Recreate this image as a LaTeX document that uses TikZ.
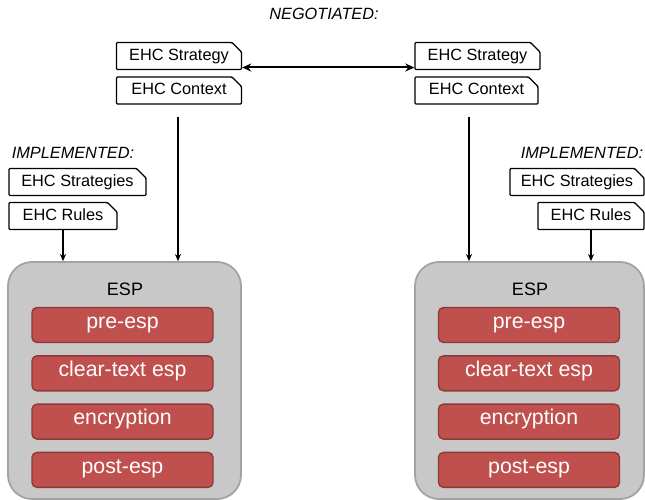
\documentclass[tikz,border=0pt]{standalone}
\usepackage{fontspec}
\setmainfont{Liberation Sans}
\usetikzlibrary{arrows.meta,shapes.misc}
\definecolor{espgray}{HTML}{C8C8C8}
\definecolor{espedge}{HTML}{A3A3A3}
\definecolor{stagered}{HTML}{C0504D}
\definecolor{stageedge}{HTML}{8C3A38}
\tikzset{
  doc/.style={chamfered rectangle, chamfered rectangle corners=north east,
    chamfered rectangle xsep=5pt, chamfered rectangle ysep=5pt,
    draw=black, line width=1.4pt, fill=white, inner sep=0pt,
    minimum height=27pt, rounded corners=1pt,
    text height=0.88em, text depth=0.02em,
    font=\fontsize{16.3}{19}\selectfont},
  heading/.style={font=\fontsize{16.3}{19}\selectfont\itshape, inner sep=0pt},
  espbox/.style={rectangle, rounded corners=24pt, draw=espedge, fill=espgray,
    line width=1.8pt, minimum width=233pt, minimum height=237pt},
  esplabel/.style={font=\fontsize{18}{21}\selectfont, inner sep=0pt},
  stage/.style={rectangle, rounded corners=5pt, draw=stageedge, fill=stagered,
    line width=1.4pt, text=white, minimum width=181pt, minimum height=35pt,
    inner sep=0pt, text height=0.7em, text depth=0.04em,
    font=\fontsize{21.3}{25}\selectfont},
  arr/.style={line width=1.6pt, -{Stealth[length=7pt,width=6pt]}},
  dbl/.style={line width=2pt, {Stealth[length=9pt,width=8pt]}-{Stealth[length=9pt,width=8pt]}}
}
\begin{document}
\begin{tikzpicture}[x=1pt,y=-1pt]
  \useasboundingbox (0,0) rectangle (645,500);
  \clip (0,0) rectangle (645,500);

  % negotiated contexts
  \node[heading] (neg) at (324,14) {NEGOTIATED:};
  \node[doc, minimum width=125pt] (ls) at (179,56) {EHC Strategy};
  \node[doc, minimum width=125pt] (lc) at (179,90.5) {EHC Context};
  \node[doc, minimum width=125pt] (rs) at (477.5,56) {EHC Strategy};
  \node[doc, minimum width=123pt] (rc) at (476.5,90.5) {EHC Context};
  \draw[dbl] ([yshift=-11.5pt]ls.east) -- ([yshift=-11.5pt]rs.west);

  % implemented rule sets
  \node[heading] (limp) at (73,152.8) {IMPLEMENTED:};
  \node[doc, minimum width=137pt] (lst) at (77.5,182) {EHC Strategies};
  \node[doc, minimum width=108pt] (lr) at (63,216) {EHC Rules};
  \node[heading] (rimp) at (582,152.5) {IMPLEMENTED:};
  \node[doc, minimum width=134pt] (rst) at (577,182) {EHC Strategies};
  \node[doc, minimum width=106pt] (rr) at (591,216) {EHC Rules};

  % ESP processing blocks
  \node[espbox] (lesp) at (124.5,380.5) {};
  \node[espbox, minimum width=229pt] (resp) at (529.5,380.5) {};
  \node[esplabel] (lesplab) at (125,289.7) {ESP};
  \node[esplabel] (resplab) at (530,289.7) {ESP};
  \foreach \name/\txt [count=\i from 0] in {pre/pre-esp, clr/clear-text esp, enc/encryption, post/post-esp}{
    \node[stage] (l\name) at (122.5,325+48.3*\i) {\txt};
    \node[stage] (r\name) at (529,325+48.3*\i) {\txt};
  }

  % feeds into the ESP blocks
  \coordinate (lfeed) at (178,117);
  \coordinate (rfeed) at (469,117);
  \draw[arr] (lfeed) -- (lfeed |- lesp.north);
  \draw[arr] (rfeed) -- (rfeed |- resp.north);
  \draw[arr] (lr.south) -- (lr.south |- lesp.north);
  \draw[arr] (rr.south) -- (rr.south |- resp.north);
\end{tikzpicture}
\end{document}
